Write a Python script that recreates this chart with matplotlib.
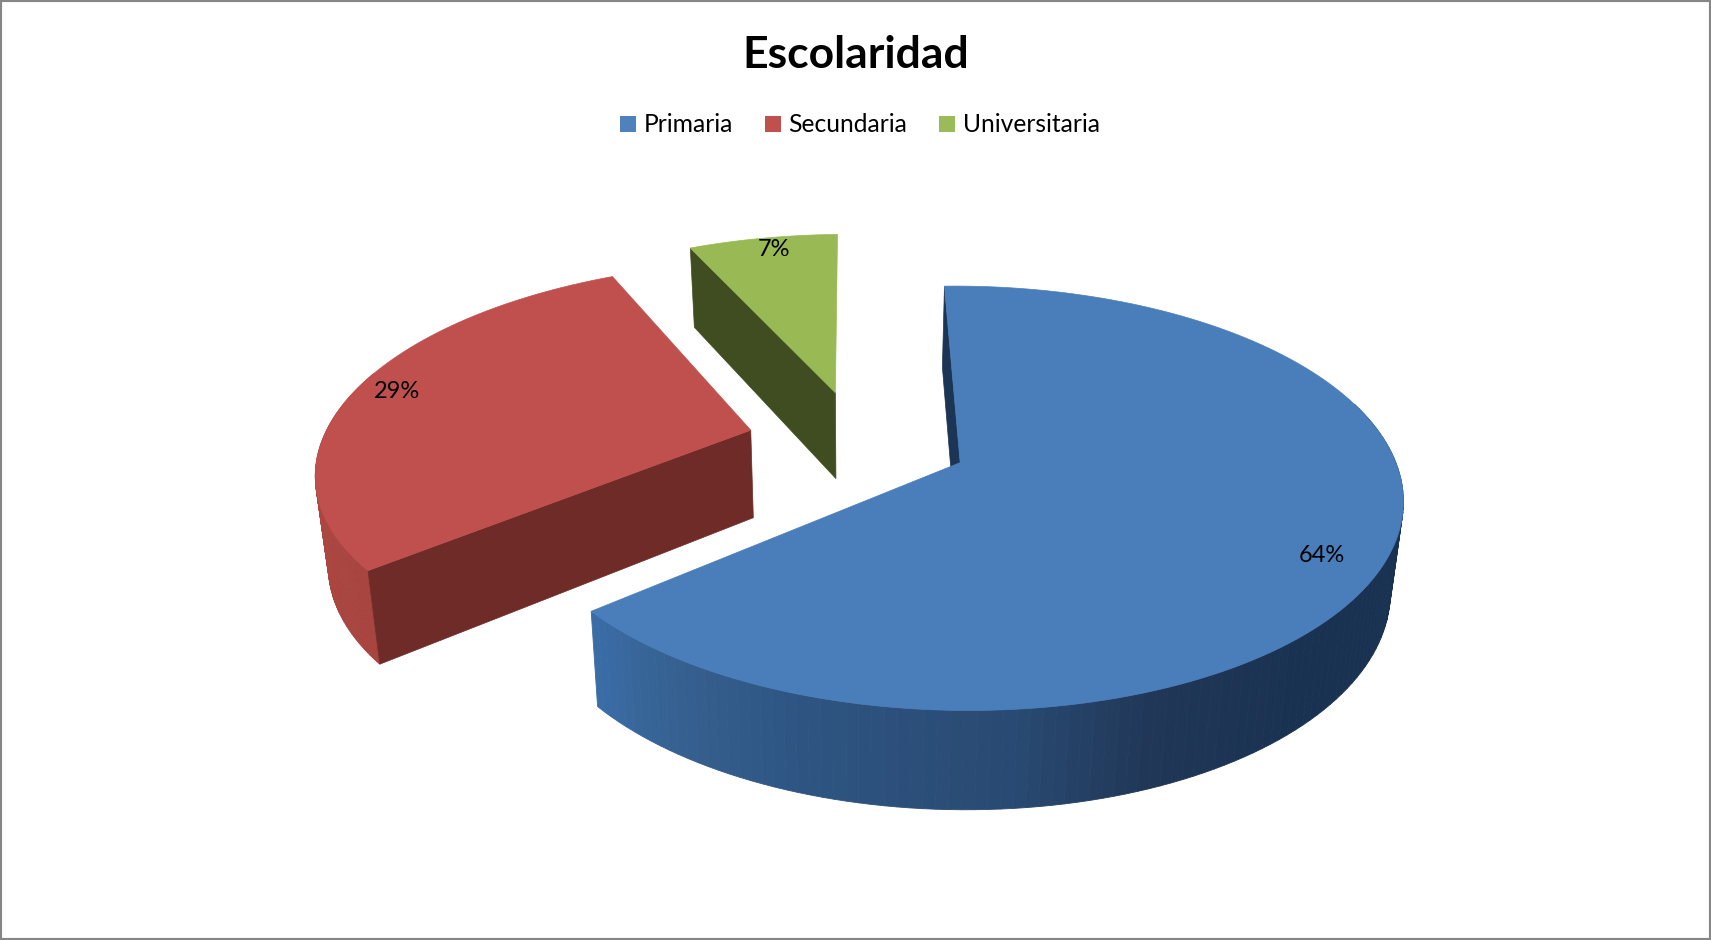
import numpy as np
import matplotlib
matplotlib.use('Agg')
import matplotlib.pyplot as plt
from matplotlib.patches import Polygon, Patch
from matplotlib.colors import to_rgb

categories = ['Primaria', 'Secundaria', 'Universitaria']
values = [64.3, 29.0, 6.7]
top_colors = ['#4a7ebb', '#c0504d', '#98b954']
legend_colors = ['#4f81bd', '#c0504d', '#9bbb59']
cut_colors = ['#1c3555', '#6e2b28', '#3f4d20']
# wall shade: fraction along the arc of each slice (clockwise from its start)
wall_stops = [[0.0, 0.6, 0.69, 0.76, 0.865, 0.93, 1.0], [0.0, 1.0], [0.0, 1.0]]
wall_colors = [['#1a3252', '#1a3252', '#203757', '#294a72', '#2e5583', '#36608f', '#3a6ea8'],
               ['#a8443f', '#b44c48'],
               ['#3f4d20', '#3f4d20']]
label_pos = [(1322, 556), (397, 391), (774, 250)]

# projection of the tilted pie, in pixels
X0, Y0 = 858, 441
A, B = 428, 199
SHEAR = -10
K = 0.165
DEPTH = 88
SHRINK = 0.024
EXPLODE = 0.26
START = -1.5


def project(x, z, h=0.0):
    w = 1 - K * z
    sx = X0 + (A * x + SHEAR * z) / w * (1 - SHRINK * h)
    sy = Y0 + B * z / w + DEPTH * h / w ** 0.6
    return np.column_stack([sx, sy])


def ring(t):
    return np.sin(np.radians(t)), -np.cos(np.radians(t))


fig = plt.figure(figsize=(17.11, 9.4), dpi=100)
ax = fig.add_axes([0, 0, 1, 1])
ax.set_xlim(0, 1711)
ax.set_ylim(940, 0)
ax.set_xticks([])
ax.set_yticks([])
for s in ax.spines.values():
    s.set_color('#868686')
    s.set_linewidth(3)

edges = np.cumsum([0] + values) * 3.6 + START
slices = []
for i in range(len(values)):
    t = np.linspace(edges[i], edges[i + 1], 160)
    mid = (edges[i] + edges[i + 1]) / 2
    ox, oz = ring(mid)
    slices.append((i, t, ox * EXPLODE, oz * EXPLODE))

# back slices first
for i, t, ox, oz in sorted(slices, key=lambda q: q[3]):
    ux, uz = ring(t)

    # outer wall, as thin strips so that the shade can run along the arc
    low = project(ox + ux, oz + uz, 1)
    up = project(ox + ux, oz + uz, 0)
    frac = np.linspace(0, 1, len(t))
    rgb = np.array([to_rgb(c) for c in wall_colors[i]])
    shade = np.column_stack([np.interp(frac, wall_stops[i], rgb[:, j]) for j in range(3)])
    for j in range(len(t) - 1):
        if uz[j] < -0.3:  # back of the rim is hidden
            continue
        quad = np.vstack([up[j], up[j + 1], low[j + 1], low[j]])
        ax.add_patch(Polygon(quad, closed=True, fc=shade[j], ec=shade[j], lw=0.6))

    # only the cut face at the start of each slice can be seen
    quad = np.vstack([project(ox, oz, 0), up[0], low[0], project(ox, oz, 1)])
    ax.add_patch(Polygon(quad, closed=True, fc=cut_colors[i], ec=cut_colors[i], lw=0.5))

    ax.add_patch(Polygon(project(np.r_[ox, ox + ux], np.r_[oz, oz + uz], 0), closed=True,
                         fc=top_colors[i], ec=top_colors[i], lw=0.5))

for v, (px, py) in zip(values, label_pos):
    ax.text(px, py, f'{v:.0f}%', ha='center', va='center', fontsize=17,
            family='Lato', color='black')

ax.text(856, 55, 'Escolaridad', ha='center', va='center', fontsize=32,
        family='Lato', fontweight='bold', color='black')

handles = [Patch(fc=c, ec='none') for c in legend_colors]
ax.legend(handles, categories, loc='center', bbox_to_anchor=(860 / 1711, 1 - 125 / 940),
          ncol=3, frameon=False, prop={'family': 'Lato', 'size': 17.7},
          handlelength=0.65, handleheight=0.65, handletextpad=0.3, columnspacing=1.3)

fig.savefig('out.png', dpi=100)
